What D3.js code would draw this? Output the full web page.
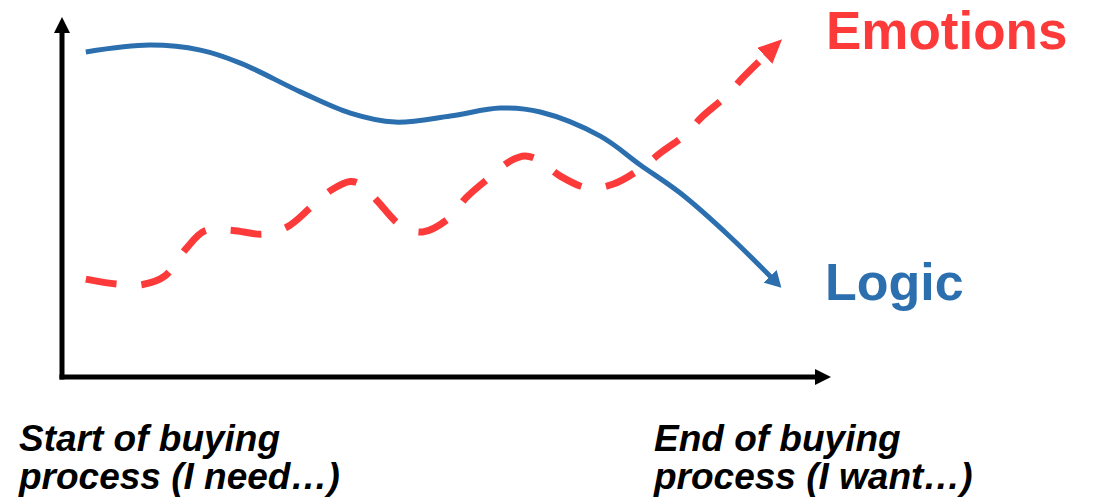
<!DOCTYPE html>
<html>
<head>
<meta charset="utf-8">
<script src="https://cdn.jsdelivr.net/npm/d3@7"></script>
<style>
  html, body { margin: 0; padding: 0; background: #ffffff; }
  svg { display: block; }
  text { font-family: "Liberation Sans", Arial, sans-serif; font-weight: bold; }
</style>
</head>
<body>
<script>
// ---- data (abstract units: x = progress of buying process 0..100, y = influence 0..100) ----
const logicX = [3.1, 11.4, 18, 23.2, 31, 37.5, 43.3, 50.5, 57, 62.2, 70, 75.2, 80.4, 86.9, 93.0];
const logicY = [90.3, 92.2, 90.8, 87.2, 79.2, 73.3, 70.8, 72.5, 74.7, 73.6, 66.9, 58.9, 51.1, 38.9, 26.0];

const emotionsX = [3.1, 7.2, 10.5, 13.4, 16.0, 18.6, 22.2, 26.1, 29.3, 32.4, 35.0, 37.5, 39.0, 41.0, 44.0, 46.9, 50.5, 52.5, 55.7, 58.3, 60.2, 62.2, 64.8, 68.4, 71.7, 75.4, 77.8, 81.0, 83.2, 86.4, 88.6, 92.7];
const emotionsY = [27.2, 25.8, 25.7, 28.1, 35.3, 40.6, 40.7, 39.7, 41.7, 47.2, 51.9, 54.3, 53.3, 48.9, 42.2, 40.3, 44.4, 49.7, 55.6, 60.0, 61.4, 60.0, 55.8, 52.5, 53.6, 58.1, 62.2, 67.2, 72.2, 78.1, 83.3, 91.9];

const seriesNames = ["Emotions", "Logic"];
const startLabel = ["Start of buying", "process (I need\u2026)"];
const endLabel = ["End of buying", "process (I want\u2026)"];

// ---- layout ----
const W = 1097, H = 502;
const RED = "#fd3a3a", BLUE = "#2b6faf";

const x = d3.scaleLinear().domain([0, 100]).range([62, 831]);
const y = d3.scaleLinear().domain([0, 100]).range([377, 17]);

const svg = d3.select("body").append("svg").attr("width", W).attr("height", H);
const defs = svg.append("defs");

function marker(id, color, len, half, ref) {
  defs.append("marker")
    .attr("id", id)
    .attr("markerUnits", "userSpaceOnUse")
    .attr("viewBox", `0 ${-half} ${len} ${half * 2}`)
    .attr("markerWidth", len).attr("markerHeight", half * 2)
    .attr("refX", ref).attr("refY", 0)
    .attr("orient", "auto")
    .append("path")
    .attr("d", `M0,${-half}L${len},0L0,${half}Z`)
    .attr("fill", color);
}
marker("arrRed", RED, 24, 11, 14);
marker("arrBlue", BLUE, 16, 9, 10);

// ---- axes with arrowheads ----
const ax = svg.append("g");
const x0 = x(0), y0 = y(0);
ax.append("line").attr("x1", x0).attr("x2", x0).attr("y1", y0 + 2.5).attr("y2", y(100) + 15)
  .attr("stroke", "#000").attr("stroke-width", 5);
ax.append("path").attr("d", `M${x0},${y(100)}L${x0 - 8},${y(100) + 16}L${x0 + 8},${y(100) + 16}Z`).attr("fill", "#000");
ax.append("line").attr("x1", x0 - 2.5).attr("x2", x(100) - 15).attr("y1", y0).attr("y2", y0)
  .attr("stroke", "#000").attr("stroke-width", 5);
ax.append("path").attr("d", `M${x(100)},${y0}L${x(100) - 16},${y0 - 8}L${x(100) - 16},${y0 + 8}Z`).attr("fill", "#000");

// ---- lines ----
const line = d3.line().x(d => x(d[0])).y(d => y(d[1])).curve(d3.curveCatmullRom.alpha(0.5));

svg.append("path")
  .datum(logicX.map((v, i) => [v, logicY[i]]))
  .attr("d", line)
  .attr("fill", "none").attr("stroke", BLUE).attr("stroke-width", 5)
  .attr("marker-end", "url(#arrBlue)");

svg.append("path")
  .datum(emotionsX.map((v, i) => [v, emotionsY[i]]))
  .attr("d", line)
  .attr("fill", "none").attr("stroke", RED).attr("stroke-width", 7)
  .attr("stroke-dasharray", "31,25")
  .attr("marker-end", "url(#arrRed)");

// ---- series labels ----
svg.append("text").attr("x", 826).attr("y", 49).attr("font-size", 53).attr("fill", RED).text(seriesNames[0]);
svg.append("text").attr("x", 825).attr("y", 300).attr("font-size", 52).attr("fill", BLUE).text(seriesNames[1]);

// ---- process labels ----
function block(lines, xPos) {
  const t = svg.append("text").attr("font-size", 37).attr("font-style", "italic").attr("fill", "#000");
  lines.forEach((s, i) => t.append("tspan").attr("x", xPos).attr("y", 451 + i * 38).text(s));
}
block(startLabel, 19);
block(endLabel, 654);
</script>
</body>
</html>
